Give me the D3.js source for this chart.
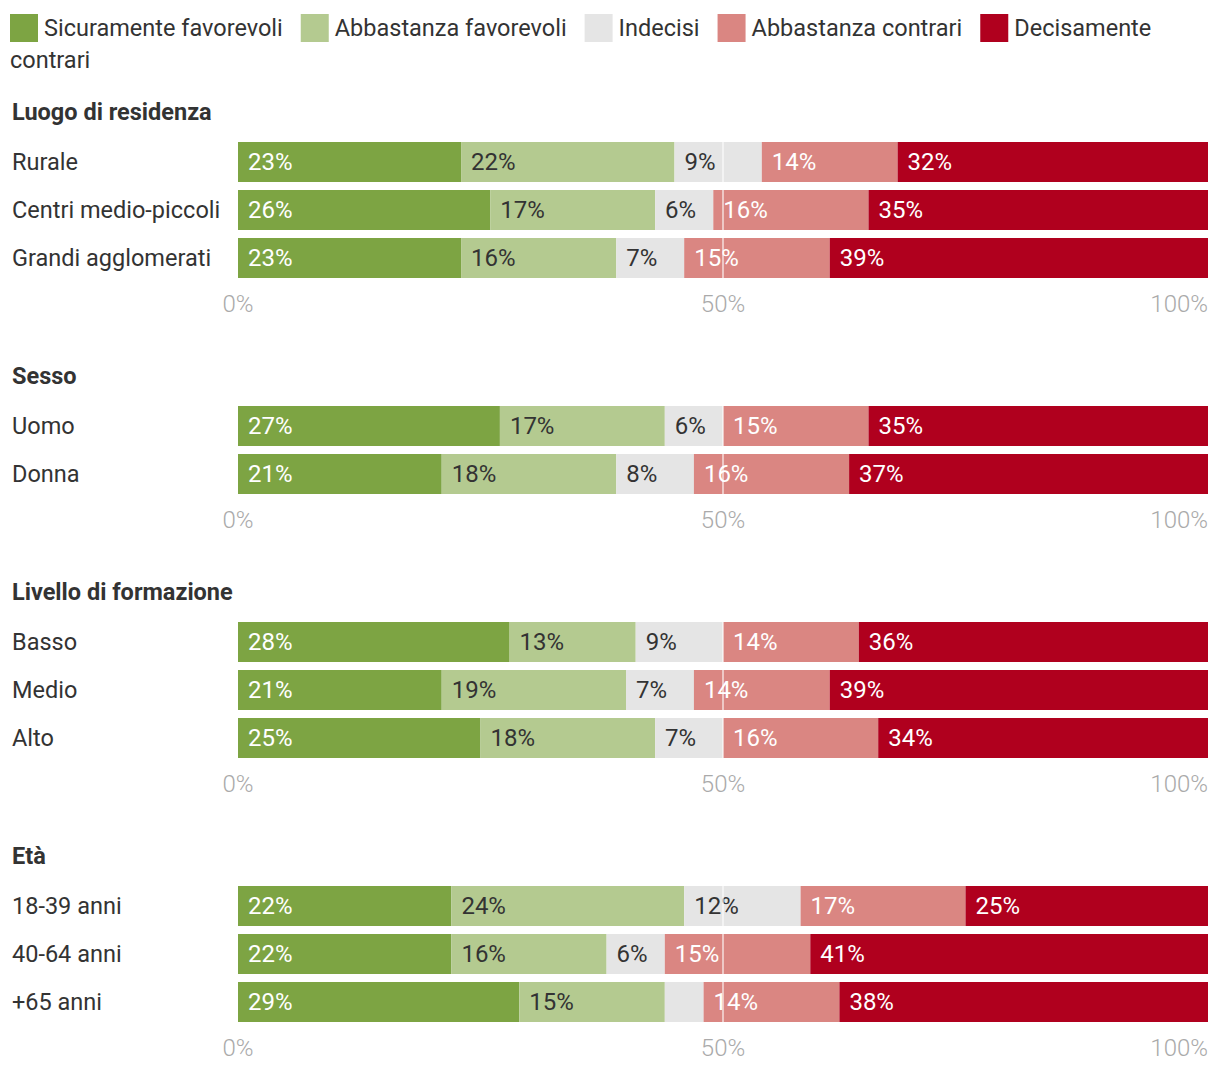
<!DOCTYPE html>
<html><head><meta charset="utf-8">
<script src="https://cdn.jsdelivr.net/npm/d3@7"></script>
<style>
html,body{margin:0;padding:0;background:#fff;}
svg{display:block;font-family:Roboto,"Noto Sans",sans-serif;}
</style></head>
<body><svg id="c" width="1220" height="1072"></svg>
<script>
const seriesNames = ["Sicuramente favorevoli","Abbastanza favorevoli","Indecisi","Abbastanza contrari","Decisamente contrari"];
const seriesColors = ["#7da443","#b4ca90","#e5e5e5","#da8682","#b0001e"];
const labelColors = ["#fff","#333","#333","#fff","#fff"];
const groupTitles = ["Luogo di residenza","Sesso","Livello di formazione","Età"];
const categories = ["Rurale","Centri medio-piccoli","Grandi agglomerati","Uomo","Donna","Basso","Medio","Alto","18-39 anni","40-64 anni","+65 anni"];
const groupOf = [0,0,0,1,1,2,2,2,3,3,3];
const sicuramenteFav = [23,26,23,27,21,28,21,25,22,22,29];
const abbastanzaFav  = [22,17,16,17,18,13,19,18,24,16,15];
const indecisi       = [9,6,7,6,8,9,7,7,12,6,4];
const abbastanzaContr= [14,16,15,15,16,14,14,16,17,15,14];
const decisamenteContr=[32,35,39,35,37,36,39,34,25,41,38];
const tickValues = [0,50,100];

const svg = d3.select("#c");
const x = d3.scaleLinear().domain([0,100]).range([238,1208]);
const fsLegend = 23.5, fsCat = 23.5, fsTitle = 23.5, fsLabel = 24, fsAxis = 24;

// Legend with word wrap
(function(){
  const lg = svg.append("g");
  let cx = 10, cy = 28; const maxX = 1210, lineH = 32;
  seriesNames.forEach((name,i)=>{
    lg.append("rect").attr("x",cx).attr("y",cy-14).attr("width",28).attr("height",28).attr("fill",seriesColors[i]);
    cx += 34;
    const words = name.split(" ");
    words.forEach((w,j)=>{
      const t = lg.append("text").attr("font-size",fsLegend).attr("fill","#333").attr("dominant-baseline","central").text((j>0?" ":"")+w).attr("x",cx).attr("y",cy).style("white-space","pre");
      const wd = t.node().getComputedTextLength();
      if (cx + wd > maxX){
        cy += lineH; cx = 10;
        t.text(w).attr("x",cx).attr("y",cy);
        cx += t.node().getComputedTextLength();
      } else cx += wd;
    });
    cx += 18;
  });
})();

const stackData = categories.map((c,i)=>({cat:c, g:groupOf[i], v:[sicuramenteFav[i],abbastanzaFav[i],indecisi[i],abbastanzaContr[i],decisamenteContr[i]]}));

let titleY = 112;
groupTitles.forEach((title,g)=>{
  const rows = stackData.filter(d=>d.g===g);
  svg.append("text").attr("x",12).attr("y",titleY).attr("dominant-baseline","central")
    .attr("font-size",fsTitle).attr("font-weight","bold").attr("fill","#333").text(title);
  const barTop = titleY + 30;
  const yb = d => barTop + rows.findIndex(r=>r.cat===d)*48;
  const gg = svg.append("g");
  rows.forEach(r=>{
    gg.append("text").attr("x",12).attr("y",yb(r.cat)+20).attr("dominant-baseline","central")
      .attr("font-size",fsCat).attr("fill","#333").text(r.cat);
    let acc = 0;
    r.v.forEach((v,i)=>{
      const x0 = x(acc), x1 = x(acc+v);
      gg.append("rect").attr("x",x0).attr("y",yb(r.cat)).attr("width",x1-x0).attr("height",40).attr("fill",seriesColors[i]);
      if (v >= 5) gg.append("text").attr("x",x0+10).attr("y",yb(r.cat)+20).attr("dominant-baseline","central")
        .attr("font-size",fsLabel).attr("fill",labelColors[i]).text(v+"%");
      acc += v;
    });
  });
  const lastBottom = barTop + (rows.length-1)*48 + 40;
  gg.append("line").attr("x1",x(50)).attr("x2",x(50)).attr("y1",barTop).attr("y2",lastBottom)
    .attr("stroke","#fff").attr("stroke-opacity",0.55).attr("stroke-width",2);
  const axisY = lastBottom + 26;
  const ag = svg.append("g");
  tickValues.forEach(t=>{
    ag.append("text").attr("x",x(t)).attr("y",axisY).attr("dominant-baseline","central")
      .attr("text-anchor", t===100?"end":"middle").attr("font-size",fsAxis).attr("font-weight",300).attr("fill","#aaa").text(t+"%");
  });
  titleY = axisY + 72;
});
</script></body></html>
